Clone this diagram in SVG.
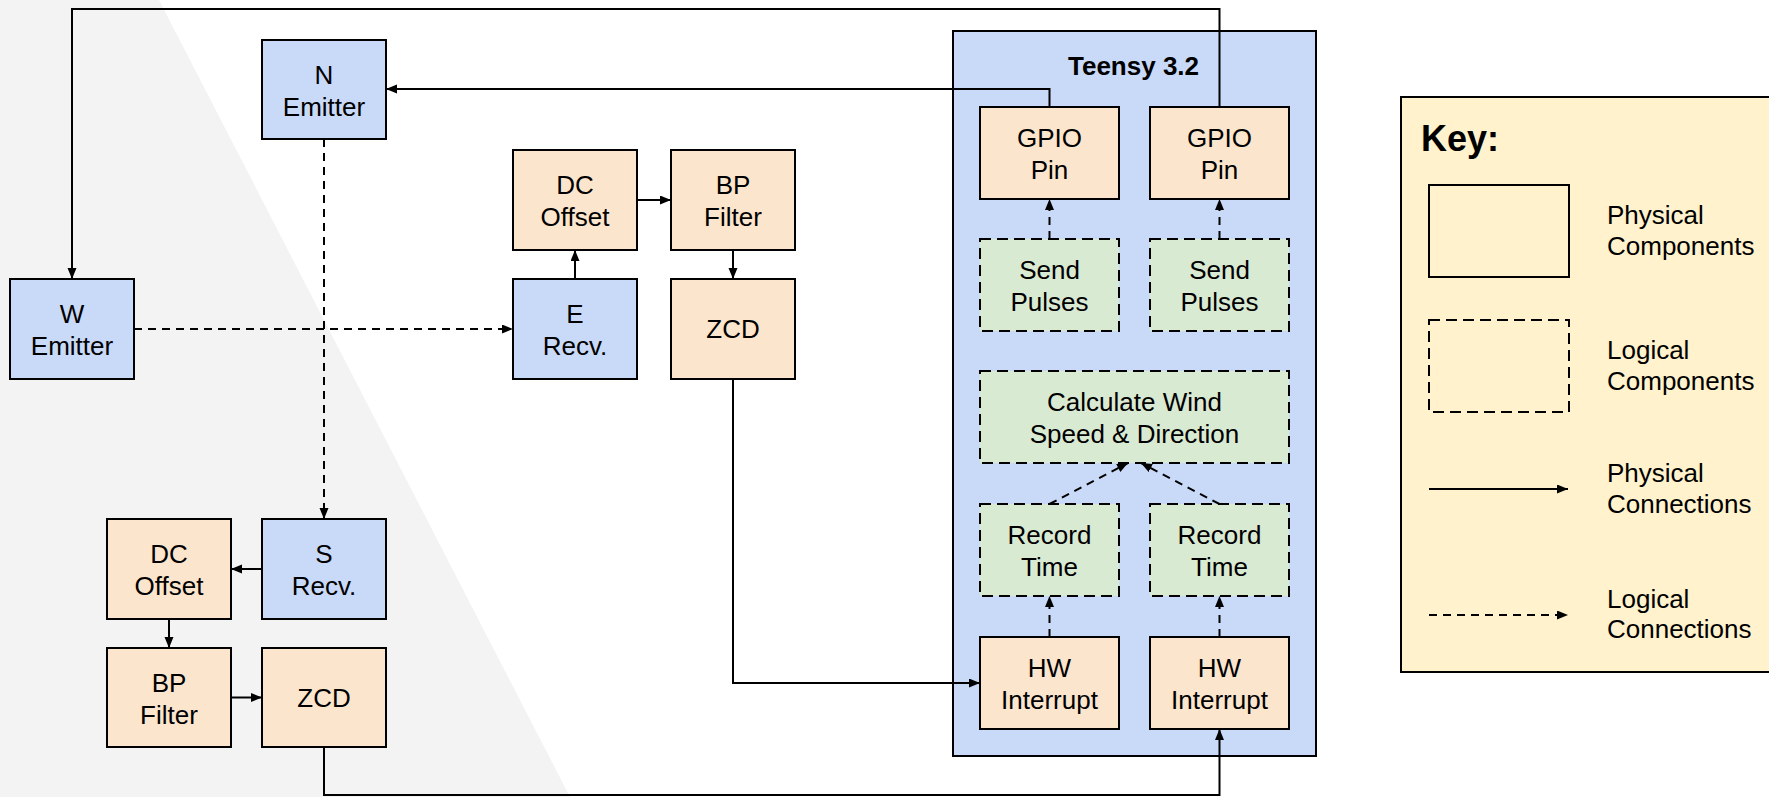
<svg xmlns="http://www.w3.org/2000/svg" width="1769" height="797" viewBox="0 0 1769 797">
<defs>
<style>
.box{stroke:#000;stroke-width:2}
.blue{fill:#c9daf8}
.orange{fill:#fce5cd}
.green{fill:#d9ead3}
.dash{stroke-dasharray:11,6}
.t{font-family:"Liberation Sans",Arial,sans-serif;font-size:26px;fill:#000;text-anchor:middle}
.kt{font-family:"Liberation Sans",Arial,sans-serif;font-size:26px;fill:#000}
.c{fill:none;stroke:#000;stroke-width:2}
.cd{fill:none;stroke:#000;stroke-width:2;stroke-dasharray:8,6}
</style>
<marker id="ah" markerUnits="userSpaceOnUse" markerWidth="12" markerHeight="10" refX="11" refY="4.5" orient="auto">
<path d="M0,0 L11,4.5 L0,9 z" fill="#000"/>
</marker>
</defs>
<rect x="0" y="0" width="1769" height="797" fill="#fff"/>
<polygon points="0,0 159,0 570,797 0,797" fill="#f3f3f3"/>

<g id="teensy">
<rect x="953" y="31" width="363" height="725" class="box blue"/>
<text x="1068" y="75" style="font-family:'Liberation Sans',Arial,sans-serif;font-size:26px;font-weight:bold">Teensy 3.2</text>
</g>

<g id="n_emitter"><rect x="262" y="40" width="124" height="99" class="box blue"/><text class="t" x="324" y="83.5">N</text><text class="t" x="324" y="115.5">Emitter</text></g>
<g id="w_emitter"><rect x="10" y="279" width="124" height="100" class="box blue"/><text class="t" x="72" y="323">W</text><text class="t" x="72" y="355">Emitter</text></g>
<g id="e_dc"><rect x="513" y="150" width="124" height="100" class="box orange"/><text class="t" x="575" y="194">DC</text><text class="t" x="575" y="226">Offset</text></g>
<g id="e_bp"><rect x="671" y="150" width="124" height="100" class="box orange"/><text class="t" x="733" y="194">BP</text><text class="t" x="733" y="226">Filter</text></g>
<g id="e_recv"><rect x="513" y="279" width="124" height="100" class="box blue"/><text class="t" x="575" y="323">E</text><text class="t" x="575" y="355">Recv.</text></g>
<g id="e_zcd"><rect x="671" y="279" width="124" height="100" class="box orange"/><text class="t" x="733" y="338">ZCD</text></g>
<g id="s_recv"><rect x="262" y="519" width="124" height="100" class="box blue"/><text class="t" x="324" y="563">S</text><text class="t" x="324" y="595">Recv.</text></g>
<g id="s_dc"><rect x="107" y="519" width="124" height="100" class="box orange"/><text class="t" x="169" y="563">DC</text><text class="t" x="169" y="595">Offset</text></g>
<g id="s_bp"><rect x="107" y="648" width="124" height="99" class="box orange"/><text class="t" x="169" y="691.5">BP</text><text class="t" x="169" y="723.5">Filter</text></g>
<g id="s_zcd"><rect x="262" y="648" width="124" height="99" class="box orange"/><text class="t" x="324" y="706.5">ZCD</text></g>

<g id="gpio1"><rect x="980" y="107" width="139" height="92" class="box orange"/><text class="t" x="1049.5" y="147">GPIO</text><text class="t" x="1049.5" y="179">Pin</text></g>
<g id="gpio2"><rect x="1150" y="107" width="139" height="92" class="box orange"/><text class="t" x="1219.5" y="147">GPIO</text><text class="t" x="1219.5" y="179">Pin</text></g>
<g id="send1"><rect x="980" y="239" width="139" height="92" class="box green dash"/><text class="t" x="1049.5" y="279">Send</text><text class="t" x="1049.5" y="311">Pulses</text></g>
<g id="send2"><rect x="1150" y="239" width="139" height="92" class="box green dash"/><text class="t" x="1219.5" y="279">Send</text><text class="t" x="1219.5" y="311">Pulses</text></g>
<g id="calc"><rect x="980" y="371" width="309" height="92" class="box green dash"/><text class="t" x="1134.5" y="411">Calculate Wind</text><text class="t" x="1134.5" y="443">Speed &amp; Direction</text></g>
<g id="rec1"><rect x="980" y="504" width="139" height="92" class="box green dash"/><text class="t" x="1049.5" y="544">Record</text><text class="t" x="1049.5" y="576">Time</text></g>
<g id="rec2"><rect x="1150" y="504" width="139" height="92" class="box green dash"/><text class="t" x="1219.5" y="544">Record</text><text class="t" x="1219.5" y="576">Time</text></g>
<g id="hw1"><rect x="980" y="637" width="139" height="92" class="box orange"/><text class="t" x="1049.5" y="677">HW</text><text class="t" x="1049.5" y="709">Interrupt</text></g>
<g id="hw2"><rect x="1150" y="637" width="139" height="92" class="box orange"/><text class="t" x="1219.5" y="677">HW</text><text class="t" x="1219.5" y="709">Interrupt</text></g>

<g id="connectors">
<path class="c" d="M1049.5,107 V89 H386" marker-end="url(#ah)"/>
<path class="c" d="M1219.5,107 V9 H72 V279" marker-end="url(#ah)"/>
<path class="cd" d="M324,139 V519" marker-end="url(#ah)"/>
<path class="cd" d="M134,329 H513" marker-end="url(#ah)"/>
<path class="c" d="M575,279 V250" marker-end="url(#ah)"/>
<path class="c" d="M637,200 H671" marker-end="url(#ah)"/>
<path class="c" d="M733,250 V279" marker-end="url(#ah)"/>
<path class="c" d="M733,379 V683 H980" marker-end="url(#ah)"/>
<path class="c" d="M262,569 H231" marker-end="url(#ah)"/>
<path class="c" d="M169,619 V648" marker-end="url(#ah)"/>
<path class="c" d="M231,697.5 H262" marker-end="url(#ah)"/>
<path class="c" d="M324,747 V795 H1219.5 V729" marker-end="url(#ah)"/>
<path class="cd" d="M1049.5,239 V199" marker-end="url(#ah)"/>
<path class="cd" d="M1219.5,239 V199" marker-end="url(#ah)"/>
<path class="cd" d="M1049.5,637 V596" marker-end="url(#ah)"/>
<path class="cd" d="M1219.5,637 V596" marker-end="url(#ah)"/>
<path class="cd" d="M1049.5,504 L1128,463" marker-end="url(#ah)"/>
<path class="cd" d="M1219.5,504 L1141,463" marker-end="url(#ah)"/>
</g>

<g id="key">
<rect x="1401" y="97" width="400" height="575" stroke="#000" stroke-width="2" fill="#fff2cc"/>
<text x="1421" y="151" style="font-family:'Liberation Sans',Arial,sans-serif;font-size:36px;font-weight:bold">Key:</text>
<rect x="1429" y="185" width="140" height="92" fill="none" stroke="#000" stroke-width="2"/>
<text class="kt" x="1607" y="224">Physical</text><text class="kt" x="1607" y="255">Components</text>
<rect x="1429" y="320" width="140" height="92" fill="none" stroke="#000" stroke-width="2" stroke-dasharray="11,6"/>
<text class="kt" x="1607" y="359">Logical</text><text class="kt" x="1607" y="390">Components</text>
<path class="c" d="M1429,489 H1568" marker-end="url(#ah)"/>
<text class="kt" x="1607" y="482">Physical</text><text class="kt" x="1607" y="513">Connections</text>
<path class="cd" d="M1429,615 H1568" marker-end="url(#ah)"/>
<text class="kt" x="1607" y="608">Logical</text><text class="kt" x="1607" y="638">Connections</text>
</g>
</svg>
